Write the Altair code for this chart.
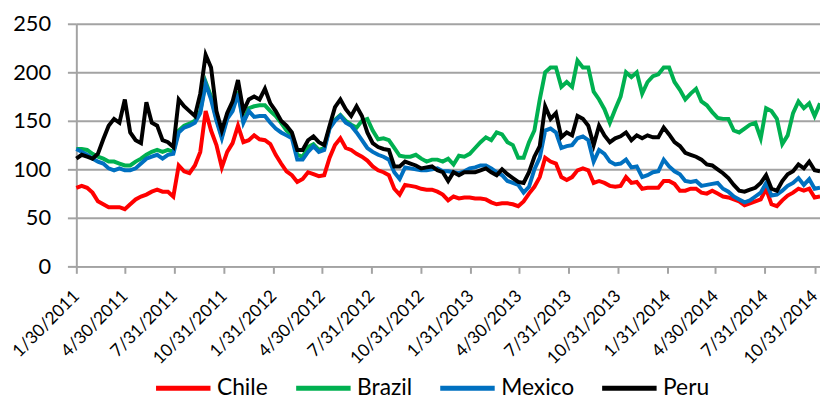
import altair as alt
import pandas as pd

# ---- data (10-day grid starting 2011-01-30) ----
start_date = "2011-01-30"
step_days = 10

series_names = ["Chile", "Brazil", "Mexico", "Peru"]
series_colors = ["#FF0000", "#00B050", "#0070C0", "#000000"]

chile = [81, 83, 81, 76, 67, 64, 61, 61, 61, 59,
         64, 69, 72, 74, 77, 79, 77, 77, 72, 104,
         98, 96, 104, 118, 160, 140, 125, 102, 118, 127,
         145, 128, 130, 135, 131, 130, 126, 115, 106, 98,
         94, 87, 90, 97, 95, 93, 94, 112, 125, 132,
         122, 120, 116, 113, 109, 103, 99, 97, 94, 80,
         74, 84, 83, 82, 80, 79, 79, 77, 74, 68,
         72, 70, 71, 71, 70, 70, 69, 66, 64, 65,
         65, 64, 62, 67, 75, 82, 92, 112, 108, 106,
         92, 89, 92, 99, 101, 99, 86, 88, 86, 83,
         82, 83, 92, 86, 87, 80, 81, 81, 81, 88,
         88, 85, 78, 78, 80, 80, 76, 75, 78, 75,
         72, 71, 69, 67, 63, 65, 67, 69, 80, 64,
         62, 68, 73, 76, 80, 78, 80, 71, 72]

brazil = [121, 121, 120, 116, 113, 111, 108, 108, 106, 104,
          104, 108, 111, 115, 118, 120, 118, 120, 118, 140,
          145, 147, 150, 160, 190, 175, 152, 134, 154, 162,
          180, 150, 163, 165, 166, 166, 160, 155, 148, 140,
          135, 115, 113, 123, 126, 120, 122, 143, 151, 156,
          150, 146, 143, 150, 152, 140, 131, 132, 130, 122,
          114, 113, 113, 115, 111, 108, 110, 110, 108, 111,
          105, 114, 113, 116, 122, 128, 133, 130, 138, 136,
          128, 125, 112, 112, 128, 140, 172, 200, 205, 205,
          185, 190, 185, 212, 205, 205, 180, 172, 162, 148,
          162, 175, 200, 195, 200, 178, 190, 196, 198, 205,
          205, 190, 182, 172, 178, 183, 170, 166, 159, 153,
          152, 152, 140, 138, 142, 146, 148, 132, 163, 160,
          152, 126, 135, 158, 170, 163, 168, 155, 168]

mexico = [121, 118, 115, 111, 108, 106, 101, 99, 101, 99,
          99, 101, 106, 111, 113, 115, 111, 115, 116, 138,
          143, 145, 148, 158, 188, 172, 150, 132, 152, 160,
          178, 148, 160, 154, 155, 155, 148, 142, 138, 135,
          132, 110, 110, 118, 124, 118, 120, 142, 150, 155,
          148, 145, 138, 130, 122, 118, 115, 113, 110, 97,
          90, 102, 101, 100, 99, 99, 100, 101, 98, 98,
          97, 96, 98, 101, 102, 104, 104, 101, 97, 94,
          88, 86, 84, 76, 82, 100, 112, 140, 142, 138,
          122, 124, 125, 132, 134, 130, 108, 120, 116, 108,
          105, 106, 110, 102, 103, 92, 94, 97, 98, 110,
          103, 98, 95, 88, 87, 88, 83, 84, 85, 86,
          80, 77, 72, 69, 66, 68, 72, 76, 86, 73,
          74, 78, 83, 86, 91, 84, 90, 80, 81]

peru = [111, 115, 113, 111, 116, 131, 145, 152, 148, 172,
        138, 130, 127, 169, 148, 145, 130, 128, 123, 172,
        165, 160, 155, 178, 218, 205, 160, 140, 158, 170,
        192, 160, 172, 175, 172, 183, 168, 160, 150, 145,
        138, 120, 120, 130, 134, 128, 125, 145, 164, 172,
        162, 155, 165, 155, 138, 127, 123, 121, 120, 103,
        103, 108, 106, 104, 101, 102, 103, 99, 97, 88,
        97, 94, 97, 97, 97, 99, 101, 97, 94, 100,
        95, 91, 87, 86, 97, 113, 124, 165, 152, 158,
        133, 138, 135, 155, 152, 145, 125, 145, 135, 128,
        132, 134, 138, 130, 135, 132, 135, 133, 133, 143,
        136, 128, 124, 117, 115, 113, 110, 105, 104, 100,
        96, 91, 84, 78, 77, 79, 81, 86, 94, 80,
        78, 88, 95, 98, 105, 101, 108, 99, 98]

tick_dates = [(2011, 1, 30), (2011, 4, 30), (2011, 7, 31), (2011, 10, 31),
              (2012, 1, 31), (2012, 4, 30), (2012, 7, 31), (2012, 10, 31),
              (2013, 1, 31), (2013, 4, 30), (2013, 7, 31), (2013, 10, 31),
              (2014, 1, 31), (2014, 4, 30), (2014, 7, 31), (2014, 10, 31)]
x_domain = [(2011, 1, 30), (2014, 11, 10)]
y_ticks = [0, 50, 100, 150, 200, 250]

# ---- build table ----
n = len(peru)
dates = pd.date_range(start_date, periods=n, freq=f"{step_days}D")
rows = []
for name, vals in zip(series_names, [chile, brazil, mexico, peru]):
    for d, v in zip(dates, vals):
        rows.append({"date": d.strftime("%Y-%m-%dT00:00:00"), "series": name, "value": v})
df = pd.DataFrame(rows)


def dt(t):
    return alt.DateTime(year=t[0], month=t[1], date=t[2])


GRAY = "#A3A3A3"
FONT = "Lato"

chart = alt.Chart(df).mark_line(strokeWidth=4).encode(
    x=alt.X(
        "date:T",
        scale=alt.Scale(domain=[dt(t) for t in x_domain]),
        axis=alt.Axis(
            values=[dt(t) for t in tick_dates],
            format="%-m/%-d/%Y",
            labelAngle=-45,
            labelAlign="right",
            labelBaseline="middle",
            labelFontSize=17.5,
            labelFont=FONT,
            labelColor="black",
            labelPadding=20,
            labelOverlap=False,
            labelFlush=False,
            tickSize=7,
            tickColor=GRAY,
            tickWidth=2,
            domainColor=GRAY,
            domainWidth=2,
            grid=False,
            title=None,
        ),
    ),
    y=alt.Y(
        "value:Q",
        scale=alt.Scale(domain=[0, 250], nice=False),
        axis=alt.Axis(
            values=y_ticks,
            labelFontSize=22,
            labelFont=FONT,
            labelColor="black",
            labelPadding=17,
            tickSize=9,
            tickColor=GRAY,
            tickWidth=2,
            domainColor=GRAY,
            domainWidth=2,
            grid=True,
            gridColor=GRAY,
            gridWidth=2,
            title=None,
        ),
    ),
    color=alt.Color(
        "series:N",
        scale=alt.Scale(domain=series_names, range=series_colors),
        sort=series_names,
        legend=alt.Legend(
            orient="none",
            legendX=78,
            legendY=338,
            direction="horizontal",
            title=None,
            symbolType="stroke",
            symbolSize=3025,
            symbolStrokeWidth=5,
            labelFontSize=23,
            labelFont=FONT,
            labelColor="black",
            columnPadding=17.5,
            labelOffset=4,
        ),
    ),
    order=alt.Order("date:T"),
).properties(
    width=751,
    height=245,
    padding={"left": 69, "top": 14, "right": 0, "bottom": 133},
    autosize=alt.AutoSizeParams(type="none"),
).configure_view(stroke=None)

chart.save("out.html", embed_options={"renderer": "svg", "actions": False})
